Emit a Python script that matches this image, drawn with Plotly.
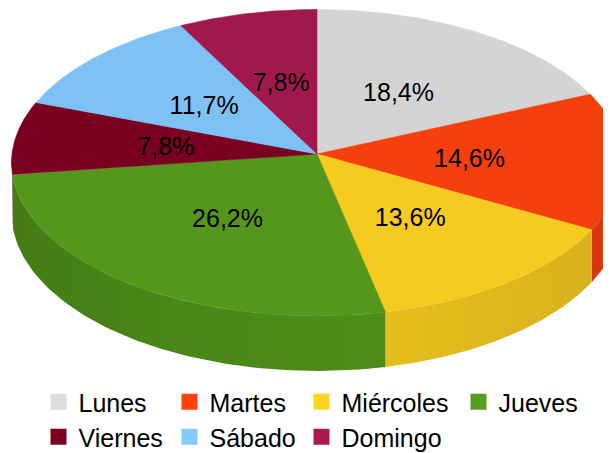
import numpy as np
import plotly.graph_objects as go

# chart data
days = ["Lunes", "Martes", "Miércoles", "Jueves", "Viernes", "Sábado", "Domingo"]
counts = [19, 15, 14, 27, 8, 12, 8]
base_colors = ["#dddddd", "#ff420e", "#ffd320", "#579d1c", "#7e0021", "#83caff", "#a8194f"]

# page is drawn with the browser's 8px body margin, so the figure is a bit
# smaller and its axes start at 8 (units = pixels of the window)
W, H = 611, 453
PAD = 8
CX, CY = 317, 154        # projected pie centre
RX, RY = 305, 152.7      # half axes of the top face
PERSP = 0.0568           # perspective strength
DEPTH = 50               # thickness of the pie
FONT = "Liberation Sans"


def shade(hex_color, f):
    h = hex_color.lstrip("#")
    r, g, b = (int(h[i:i + 2], 16) for i in (0, 2, 4))
    return "rgb(%d,%d,%d)" % (round(r * f), round(g * f), round(b * f))


def project(theta, r=1.0):
    t = np.radians(theta)
    u = r * np.sin(t)
    v = -r * np.cos(t)
    s = 1.0 / (1.0 - PERSP * v)
    return CX + RX * u * s, CY + RY * v * s, v


shares = np.array(counts) / sum(counts)
ends = np.cumsum(shares) * 360
starts = ends - shares * 360

fig = go.Figure()

# side walls (only the front half can be seen)
light_stops = [(0.0, 0.78), (0.25, 0.85), (0.62, 0.90), (1.0, 0.84)]
for a, b, col in zip(starts, ends, base_colors):
    lo, hi = max(a, 90), min(b, 270)
    if lo >= hi:
        continue
    th = np.linspace(lo, hi, 80)
    x, y, v = project(th)
    yb = y + DEPTH + 5 * v
    fig.add_trace(go.Scatter(
        x=np.concatenate([x, x[::-1]]),
        y=np.concatenate([y, yb[::-1]]),
        mode="lines", fill="toself",
        line=dict(width=0),
        fillcolor=shade(col, 0.87),
        fillgradient=dict(type="horizontal", start=0, stop=W,
                          colorscale=[[p, shade(col, f)] for p, f in light_stops]),
        hoverinfo="skip", showlegend=False,
    ))

# top faces
for a, b, col in zip(starts, ends, base_colors):
    th = np.linspace(a, b, 120)
    x, y, _ = project(th)
    top = shade(col, 0.96)
    fig.add_trace(go.Scatter(
        x=np.concatenate([[CX], x, [CX]]),
        y=np.concatenate([[CY], y, [CY]]),
        mode="lines", fill="toself",
        line=dict(width=0.6, color=top),
        fillcolor=top,
        hoverinfo="skip", showlegend=False,
    ))

# percentage labels
mids = (starts + ends) / 2
lx, ly, _ = project(mids, 0.5)
labels = [("%.1f%%" % (p * 100)).replace(".", ",") for p in shares]
fig.add_trace(go.Scatter(
    x=lx, y=ly + 3, mode="text", text=labels, textposition="middle center",
    textfont=dict(family=FONT, size=25, color="black"),
    hoverinfo="skip", showlegend=False,
))

# legend: one small legend per entry, laid out as in the original grid
legend_xy = [(38.5, 402), (169.5, 402), (301.5, 402), (458.5, 402),
             (38.5, 437), (169.5, 437), (301.5, 437)]
legends = {}
for i, (name, col) in enumerate(zip(days, base_colors)):
    key = "legend" if i == 0 else "legend%d" % (i + 1)
    fig.add_trace(go.Scatter(
        x=[None], y=[None], mode="markers", name=name, legend=key,
        marker=dict(symbol="square", size=16, color=col, line=dict(width=0)),
    ))
    lx0, ly0 = legend_xy[i]
    legends[key] = dict(
        x=(lx0 - PAD) / (W - PAD), y=1 - (ly0 - PAD) / (H - PAD),
        xanchor="left", yanchor="middle",
        orientation="v", bgcolor="rgba(0,0,0,0)", borderwidth=0,
        font=dict(family=FONT, size=25, color="black"),
    )

fig.update_layout(
    width=W - PAD, height=H - PAD,
    margin=dict(l=0, r=0, t=0, b=0, autoexpand=False),
    paper_bgcolor="white", plot_bgcolor="white",
    xaxis=dict(range=[PAD, W], visible=False, fixedrange=True),
    yaxis=dict(range=[H, PAD], visible=False, fixedrange=True),
    showlegend=True,
    **legends,
)

fig.write_html("out.html")
